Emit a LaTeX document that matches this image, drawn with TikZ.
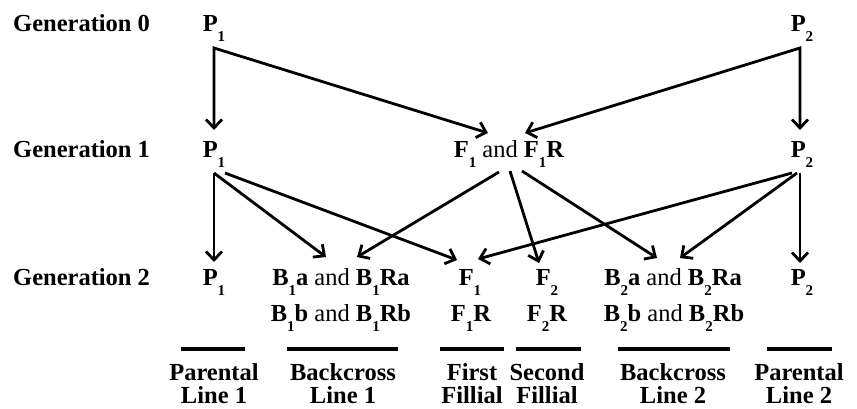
\documentclass[tikz,border=0pt]{standalone}
\usepackage{fontspec}
\setmainfont{Liberation Serif}
\usetikzlibrary{arrows.meta,calc}
\newcommand{\gsub}[1]{\raisebox{-0.42em}{\fontsize{15}{15}\selectfont #1}}
\newcommand{\nd}{{\mdseries and}}

\begin{document}
\begin{tikzpicture}[x=1pt,y=-1pt,
    lab/.style={font=\fontsize{24.5}{23}\selectfont\bfseries, inner sep=0pt, anchor=base},
    gen/.style={lab, anchor=base west},
    line/.style={font=\fontsize{24.5}{23}\selectfont\bfseries, inner sep=0pt, anchor=north, align=center},
    arr/.style={line width=2.8pt, -{Straight Barb[length=8.5pt,width=16pt]}},
    twoarr/.style={line width=2.8pt, {Straight Barb[length=8.5pt,width=16pt]}-{Straight Barb[length=8.5pt,width=16pt]}},
    bar/.style={line width=4.5pt}]
            \useasboundingbox (0,0) rectangle (857,408);

            % Generation labels
            \node[gen] (g0) at (13,31)  {Generation 0};
            \node[gen] (g1) at (13,157) {Generation 1};
            \node[gen] (g2) at (13,285) {Generation 2};

            % Generation 0
            \node[lab] (p0a) at (214,31) {P\gsub{1}};
            \node[lab] (p0b) at (802,31) {P\gsub{2}};

            % Generation 1
            \node[lab] (p1a) at (214,157) {P\gsub{1}};
            \node[lab] (f1r1) at (509,157) {F\gsub{1} \nd{} F\gsub{1}R};
            \node[lab] (p1b) at (802,157) {P\gsub{2}};

            % Generation 2
            \node[lab] (p2a) at (214,285) {P\gsub{1}};
            \node[lab] (b1a) at (341,285) {B\gsub{1}a \nd{} B\gsub{1}Ra};
            \node[lab] (f1) at (470,285) {F\gsub{1}};
            \node[lab] (f2) at (547,285) {F\gsub{2}};
            \node[lab] (b2a) at (673,285) {B\gsub{2}a \nd{} B\gsub{2}Ra};
            \node[lab] (p2b) at (802,285) {P\gsub{2}};
            \node[lab] (b1b) at (341,321) {B\gsub{1}b \nd{} B\gsub{1}Rb};
            \node[lab] (f1r) at (471,321) {F\gsub{1}R};
            \node[lab] (f2r) at (547,321) {F\gsub{2}R};
            \node[lab] (b2b) at (674,321) {B\gsub{2}b \nd{} B\gsub{2}Rb};

            % Line names
            \node[line] (pl1) at (214,363) {Parental\\Line 1};
            \node[line] (bl1) at (343,363) {Backcross\\Line 1};
            \node[line] (ff) at (472,363) {First\\Fillial};
            \node[line] (sf) at (547,363) {Second\\Fillial};
            \node[line] (bl2) at (673,363) {Backcross\\Line 2};
            \node[line] (pl2) at (799,363) {Parental\\Line 2};

            % Bars above line names
            \foreach \xa/\xb in {181/245, 287/398, 440/504, 516/581, 618/730, 767/832}
              \draw[bar] (\xa,349) -- (\xb,349);

            % Generation 0 to 1
            \draw[twoarr] ($(f1r1.base)+(-21,-24)$) -- ($(p0a.base)+(0,17)$) -- ($(p1a.base)+(0,-27)$);
            \draw[twoarr] ($(f1r1.base)+(16,-24)$) -- ($(p0b.base)+(-2,17)$) -- ($(p1b.base)+(-2,-27)$);

            % Generation 1 to 2
            \draw[arr] ($(p1a.base)+(0,16)$) -- ($(p2a.base)+(0,-23)$);
            \draw[arr] ($(p1a.base)+(0,16)$) -- ($(b1a.base)+(-15,-28)$);
            \draw[arr] ($(p1a.base)+(11,16)$) -- ($(f1.base)+(-13,-25)$);
            \draw[arr] ($(f1r1.base)+(-10,15)$) -- ($(b1a.base)+(16,-28)$);
            \draw[arr] ($(f1r1.base)+(1,14)$) -- ($(f2.base)+(-8,-22)$);
            \draw[arr] ($(f1r1.base)+(13,14)$) -- ($(b2a.base)+(-16,-27)$);
            \draw[arr] ($(p1b.base)+(-10,16)$) -- ($(f1.base)+(8,-26)$);
            \draw[arr] ($(p1b.base)+(-5,16)$) -- ($(b2a.base)+(7,-27)$);
            \draw[arr] ($(p1b.base)+(-2,16)$) -- ($(p2b.base)+(-2,-22)$);
\end{tikzpicture}
\end{document}
